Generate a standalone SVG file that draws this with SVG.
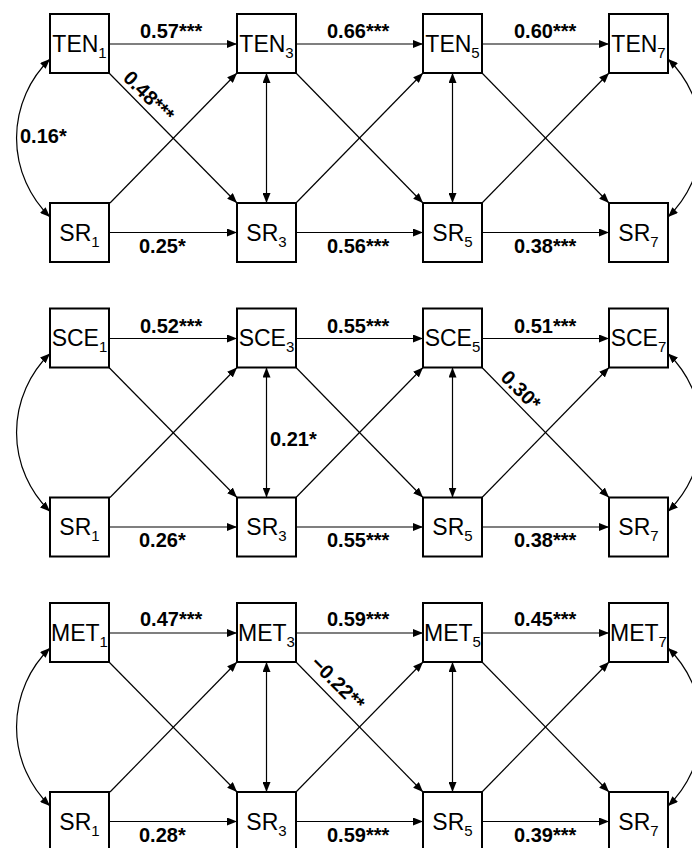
<svg xmlns="http://www.w3.org/2000/svg" width="692" height="848" viewBox="0 0 692 848">
<style>
.box{fill:#fff;stroke:#000;stroke-width:2}
.nt{font-family:"Liberation Sans",Arial,sans-serif;font-size:23px;text-anchor:middle;fill:#000}
.sub{font-size:15px}
.c{fill:none;stroke:#000;stroke-width:1.2}
.a{marker-end:url(#ah)}
.b{marker-start:url(#ah);marker-end:url(#ah)}
.lb{font-family:"Liberation Sans",Arial,sans-serif;font-size:20px;font-weight:bold;fill:#000}
</style>
<defs>
<marker id="ah" viewBox="0 0 10 8" refX="10" refY="4" markerWidth="10" markerHeight="8" markerUnits="userSpaceOnUse" orient="auto-start-reverse">
<path d="M0,0 L10,4 L0,8 z" fill="#000"/>
</marker>
<g id="pconn">
<path class="c a" d="M109,44 H237"/>
<path class="c a" d="M296,44 H423"/>
<path class="c a" d="M482,44 H609"/>
<path class="c a" d="M110,232.5 H237"/>
<path class="c a" d="M296,232.5 H423"/>
<path class="c a" d="M482,232.5 H609"/>
<path class="c a" d="M109,73 L237,203"/>
<path class="c a" d="M110,203 L237,73"/>
<path class="c a" d="M296,73 L423,203"/>
<path class="c a" d="M296,203 L423,73"/>
<path class="c a" d="M482,73 L609,203"/>
<path class="c a" d="M482,203 L609,73"/>
<path class="c b" d="M266.5,73 V203"/>
<path class="c b" d="M452.5,73 V203"/>
<path class="c b" d="M50,59 A110,110 0 0,0 50,217"/>
<path class="c b" d="M668,59 A110,110 0 0,1 668,217"/>
</g>
</defs>
<g id="connectors">
<use href="#pconn"/>
<use href="#pconn" transform="translate(0,294.5)"/>
<use href="#pconn" transform="translate(0,589)"/>
</g>
<g id="nodes">
<g id="TEN1"><rect class="box" x="50" y="14" width="59" height="59"/><text class="nt" x="79.5" y="51.5">TEN<tspan class="sub" dy="6">1</tspan></text></g>
<g id="TEN3"><rect class="box" x="237" y="14" width="59" height="59"/><text class="nt" x="266.5" y="51.5">TEN<tspan class="sub" dy="6">3</tspan></text></g>
<g id="TEN5"><rect class="box" x="423" y="14" width="59" height="59"/><text class="nt" x="452.5" y="51.5">TEN<tspan class="sub" dy="6">5</tspan></text></g>
<g id="TEN7"><rect class="box" x="609" y="14" width="59" height="59"/><text class="nt" x="638.5" y="51.5">TEN<tspan class="sub" dy="6">7</tspan></text></g>
<g id="SR1a"><rect class="box" x="50" y="203" width="59" height="59"/><text class="nt" x="79.5" y="240.5">SR<tspan class="sub" dy="6">1</tspan></text></g>
<g id="SR3a"><rect class="box" x="237" y="203" width="59" height="59"/><text class="nt" x="266.5" y="240.5">SR<tspan class="sub" dy="6">3</tspan></text></g>
<g id="SR5a"><rect class="box" x="423" y="203" width="59" height="59"/><text class="nt" x="452.5" y="240.5">SR<tspan class="sub" dy="6">5</tspan></text></g>
<g id="SR7a"><rect class="box" x="609" y="203" width="59" height="59"/><text class="nt" x="638.5" y="240.5">SR<tspan class="sub" dy="6">7</tspan></text></g>

<g id="SCE1"><rect class="box" x="50" y="308.5" width="59" height="59"/><text class="nt" x="79.5" y="346">SCE<tspan class="sub" dy="6">1</tspan></text></g>
<g id="SCE3"><rect class="box" x="237" y="308.5" width="59" height="59"/><text class="nt" x="266.5" y="346">SCE<tspan class="sub" dy="6">3</tspan></text></g>
<g id="SCE5"><rect class="box" x="423" y="308.5" width="59" height="59"/><text class="nt" x="452.5" y="346">SCE<tspan class="sub" dy="6">5</tspan></text></g>
<g id="SCE7"><rect class="box" x="609" y="308.5" width="59" height="59"/><text class="nt" x="638.5" y="346">SCE<tspan class="sub" dy="6">7</tspan></text></g>
<g id="SR1b"><rect class="box" x="50" y="497.5" width="59" height="59"/><text class="nt" x="79.5" y="535">SR<tspan class="sub" dy="6">1</tspan></text></g>
<g id="SR3b"><rect class="box" x="237" y="497.5" width="59" height="59"/><text class="nt" x="266.5" y="535">SR<tspan class="sub" dy="6">3</tspan></text></g>
<g id="SR5b"><rect class="box" x="423" y="497.5" width="59" height="59"/><text class="nt" x="452.5" y="535">SR<tspan class="sub" dy="6">5</tspan></text></g>
<g id="SR7b"><rect class="box" x="609" y="497.5" width="59" height="59"/><text class="nt" x="638.5" y="535">SR<tspan class="sub" dy="6">7</tspan></text></g>

<g id="MET1"><rect class="box" x="50" y="603" width="59" height="59"/><text class="nt" x="79.5" y="640.5">MET<tspan class="sub" dy="6">1</tspan></text></g>
<g id="MET3"><rect class="box" x="237" y="603" width="59" height="59"/><text class="nt" x="266.5" y="640.5">MET<tspan class="sub" dy="6">3</tspan></text></g>
<g id="MET5"><rect class="box" x="423" y="603" width="59" height="59"/><text class="nt" x="452.5" y="640.5">MET<tspan class="sub" dy="6">5</tspan></text></g>
<g id="MET7"><rect class="box" x="609" y="603" width="59" height="59"/><text class="nt" x="638.5" y="640.5">MET<tspan class="sub" dy="6">7</tspan></text></g>
<g id="SR1c"><rect class="box" x="50" y="792" width="59" height="59"/><text class="nt" x="79.5" y="829.5">SR<tspan class="sub" dy="6">1</tspan></text></g>
<g id="SR3c"><rect class="box" x="237" y="792" width="59" height="59"/><text class="nt" x="266.5" y="829.5">SR<tspan class="sub" dy="6">3</tspan></text></g>
<g id="SR5c"><rect class="box" x="423" y="792" width="59" height="59"/><text class="nt" x="452.5" y="829.5">SR<tspan class="sub" dy="6">5</tspan></text></g>
<g id="SR7c"><rect class="box" x="609" y="792" width="59" height="59"/><text class="nt" x="638.5" y="829.5">SR<tspan class="sub" dy="6">7</tspan></text></g>
</g>
<g id="labels">
<text class="lb" x="140" y="38">0.57***</text>
<text class="lb" x="327" y="38">0.66***</text>
<text class="lb" x="514" y="38">0.60***</text>
<text class="lb" x="139" y="252.5">0.25*</text>
<text class="lb" x="327" y="252.5">0.56***</text>
<text class="lb" x="514" y="252.5">0.38***</text>
<text class="lb" x="20" y="143">0.16*</text>
<text class="lb" text-anchor="middle" transform="translate(144,101) rotate(45)">0.48***</text>

<text class="lb" x="140" y="332.5">0.52***</text>
<text class="lb" x="327" y="332.5">0.55***</text>
<text class="lb" x="514" y="332.5">0.51***</text>
<text class="lb" x="139" y="547">0.26*</text>
<text class="lb" x="327" y="547">0.55***</text>
<text class="lb" x="514" y="547">0.38***</text>
<text class="lb" x="270" y="446">0.21*</text>
<text class="lb" text-anchor="middle" transform="translate(516,395) rotate(45)">0.30*</text>

<text class="lb" x="140" y="626">0.47***</text>
<text class="lb" x="327" y="626">0.59***</text>
<text class="lb" x="514" y="626">0.45***</text>
<text class="lb" x="139" y="841.5">0.28*</text>
<text class="lb" x="327" y="841.5">0.59***</text>
<text class="lb" x="514" y="841.5">0.39***</text>
<text class="lb" text-anchor="middle" transform="translate(333,688) rotate(45)">−0.22**</text>
</g>
</svg>
